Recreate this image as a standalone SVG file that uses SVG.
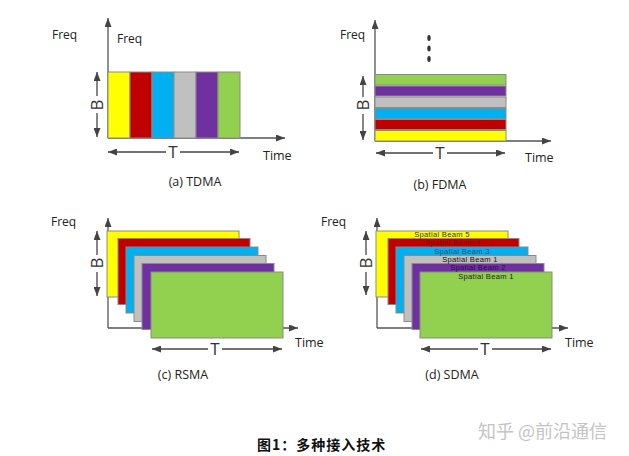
<svg xmlns="http://www.w3.org/2000/svg" width="629" height="456" viewBox="0 0 629 456">
<style>
.lbl{font-family:"Open Sans","Liberation Sans",sans-serif;font-size:12px;fill:#222}
.cap{font-family:"Open Sans","Liberation Sans",sans-serif;font-size:12.5px;fill:#222}
.big{font-family:"Open Sans","Liberation Sans",sans-serif;font-size:17px;fill:#333}
.ax{stroke:#555;stroke-width:1.3;fill:none}
.dim{stroke:#444;stroke-width:1.3;fill:none}
.bar{stroke:#8a8a8a;stroke-width:1}
.beam{font-family:"Liberation Sans",Arial,sans-serif;font-size:7.6px;text-anchor:middle;letter-spacing:0.3px}
.y{fill:#ffff00}.r{fill:#c00000}.b{fill:#00b0f0}.g{fill:#c0c0c0}.p{fill:#7030a0}.gr{fill:#92d050}
</style>
<defs>
<marker id="ah" markerUnits="userSpaceOnUse" markerWidth="9" markerHeight="7" refX="9" refY="3.5" orient="auto-start-reverse">
<path d="M0,0 L9,3.5 L0,7 z" fill="#444"/>
</marker>
</defs>
<rect width="629" height="456" fill="#fff"/>

<!-- Panel a: TDMA -->
<g id="tdma">
<line class="ax" x1="108" y1="138" x2="108" y2="18" marker-end="url(#ah)"/>
<line class="ax" x1="108" y1="138" x2="285" y2="138" marker-end="url(#ah)"/>
<rect class="bar y" x="108" y="72" width="22" height="66"/>
<rect class="bar r" x="130" y="72" width="22" height="66"/>
<rect class="bar b" x="152" y="72" width="22" height="66"/>
<rect class="bar g" x="174" y="72" width="22" height="66"/>
<rect class="bar p" x="196" y="72" width="22" height="66"/>
<rect class="bar gr" x="218" y="72" width="22" height="66"/>
<text class="lbl" x="52" y="39">Freq</text>
<text class="lbl" x="117" y="43">Freq</text>
<text class="cap" x="263" y="160">Time</text>
<text class="cap" x="195" y="186" text-anchor="middle">(a) TDMA</text>
</g>

<!-- Panel b: FDMA -->
<g id="fdma">
<line class="ax" x1="375" y1="141" x2="375" y2="20" marker-end="url(#ah)"/>
<line class="ax" x1="375" y1="141" x2="551" y2="141" marker-end="url(#ah)"/>
<rect class="bar gr" x="375" y="74.5" width="131" height="10.5" stroke-width="1.5"/>
<rect class="bar p" x="375" y="86" width="131" height="10" stroke-width="1.5"/>
<rect class="bar g" x="375" y="97" width="131" height="10.5" stroke-width="1.5"/>
<rect class="bar b" x="375" y="108.5" width="131" height="10" stroke-width="1.5"/>
<rect class="bar r" x="375" y="119.5" width="131" height="10" stroke-width="1.5"/>
<rect class="bar y" x="375" y="130.5" width="131" height="10.5" stroke-width="1.5"/>
<ellipse cx="429" cy="38" rx="1.7" ry="3" fill="#333"/>
<ellipse cx="429" cy="48.5" rx="1.7" ry="3" fill="#333"/>
<ellipse cx="429" cy="59" rx="1.7" ry="3" fill="#333"/>
<text class="lbl" x="340" y="39">Freq</text>
<text class="cap" x="525" y="162">Time</text>
<text class="cap" x="440" y="189" text-anchor="middle">(b) FDMA</text>
</g>

<!-- Panel c: RSMA -->
<g id="rsma">
<line class="ax" x1="108" y1="328" x2="108" y2="218" marker-end="url(#ah)"/>
<line class="ax" x1="108" y1="328" x2="298" y2="328" marker-end="url(#ah)"/>
<rect class="bar y" x="107" y="231" width="132" height="66"/>
<rect class="bar r" x="118" y="238.5" width="132" height="66"/>
<rect class="bar b" x="126" y="247" width="132" height="66"/>
<rect class="bar g" x="134" y="255.5" width="132" height="66"/>
<rect class="bar p" x="142" y="263.5" width="132" height="66"/>
<rect class="bar gr" x="151" y="272" width="132" height="66"/>
<text class="lbl" x="51" y="226">Freq</text>
<text class="cap" x="295" y="347">Time</text>
<text class="cap" x="183" y="379" text-anchor="middle">(c) RSMA</text>
</g>

<!-- Panel d: SDMA -->
<g id="sdma">
<line class="ax" x1="377" y1="328" x2="377" y2="218" marker-end="url(#ah)"/>
<line class="ax" x1="377" y1="328" x2="568" y2="328" marker-end="url(#ah)"/>
<rect class="bar y" x="376" y="231" width="132" height="66"/>
<rect class="bar r" x="388" y="238.5" width="131" height="66"/>
<rect class="bar b" x="396" y="247" width="132" height="66"/>
<rect class="bar g" x="404" y="255.5" width="132" height="66"/>
<rect class="bar p" x="412" y="263.5" width="132" height="66"/>
<rect class="bar gr" x="420" y="272" width="132" height="66"/>
<text class="beam" x="442" y="237" fill="#333">Spatial Beam 5</text>
<text class="beam" x="453" y="245" fill="#7a1010">Spatial Beam 4</text>
<text class="beam" x="462" y="253.5" fill="#1f4e79">Spatial Beam 3</text>
<text class="beam" x="470" y="261.5" fill="#111">Spatial Beam 1</text>
<text class="beam" x="478" y="270" fill="#2a0a4a">Spatial Beam 2</text>
<text class="beam" x="486" y="278.5" fill="#222">Spatial Beam 1</text>
<text class="lbl" x="321" y="226">Freq</text>
<text class="cap" x="565" y="347">Time</text>
<text class="cap" x="452" y="379" text-anchor="middle">(d) SDMA</text>
</g>

<!-- Dimension connectors -->
<g id="connectors">
<line class="dim" x1="97" y1="72" x2="97" y2="137" marker-start="url(#ah)" marker-end="url(#ah)"/>
<line class="dim" x1="108" y1="152" x2="239" y2="152" marker-start="url(#ah)" marker-end="url(#ah)"/>
<line class="dim" x1="363" y1="76" x2="363" y2="140" marker-start="url(#ah)" marker-end="url(#ah)"/>
<line class="dim" x1="376" y1="153" x2="505" y2="153" marker-start="url(#ah)" marker-end="url(#ah)"/>
<line class="dim" x1="97" y1="231" x2="97" y2="296" marker-start="url(#ah)" marker-end="url(#ah)"/>
<line class="dim" x1="152" y1="349" x2="282" y2="349" marker-start="url(#ah)" marker-end="url(#ah)"/>
<line class="dim" x1="366" y1="231" x2="366" y2="295" marker-start="url(#ah)" marker-end="url(#ah)"/>
<line class="dim" x1="421" y1="349" x2="551" y2="349" marker-start="url(#ah)" marker-end="url(#ah)"/>
</g>

<!-- B / T labels -->
<g id="dim-labels">
<rect x="90" y="96" width="15" height="17" fill="#fff"/>
<text class="big" transform="translate(97,105) rotate(-90)" x="0" y="6" text-anchor="middle">B</text>
<rect x="166" y="144" width="14" height="16" fill="#fff"/>
<text class="big" x="173" y="158" text-anchor="middle">T</text>
<rect x="356" y="97" width="14" height="17" fill="#fff"/>
<text class="big" transform="translate(363,105) rotate(-90)" x="0" y="6" text-anchor="middle">B</text>
<rect x="433" y="145" width="14" height="16" fill="#fff"/>
<text class="big" x="440" y="159" text-anchor="middle">T</text>
<rect x="90" y="255" width="14" height="17" fill="#fff"/>
<text class="big" transform="translate(97,263) rotate(-90)" x="0" y="6" text-anchor="middle">B</text>
<rect x="208" y="341" width="14" height="16" fill="#fff"/>
<text class="big" x="215" y="355" text-anchor="middle">T</text>
<rect x="359" y="255" width="14" height="17" fill="#fff"/>
<text class="big" transform="translate(366,263) rotate(-90)" x="0" y="6" text-anchor="middle">B</text>
<rect x="478" y="341" width="14" height="16" fill="#fff"/>
<text class="big" x="485" y="355" text-anchor="middle">T</text>
</g>

<g id="caption">
<text x="257" y="450" font-family="'Noto Sans CJK SC','Noto Sans CJK JP',sans-serif" font-size="14" font-weight="bold" letter-spacing="1" fill="#111">图1：多种接入技术</text>
<text x="478" y="438" font-family="'Noto Sans CJK SC','Noto Sans CJK JP',sans-serif" font-size="18" fill="#c4c4c4">知乎 @前沿通信</text>
</g>
</svg>
